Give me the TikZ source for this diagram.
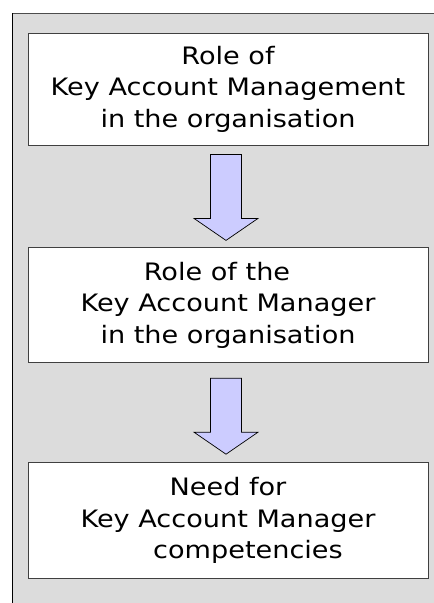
\documentclass[tikz,border=0pt]{standalone}
\usepackage{fontspec}
\usepackage{tikz}
\usetikzlibrary{positioning,calc}

\newfontfamily\boxfont[FakeStretch=1.13]{DejaVu Sans}

% block arrow between two stacked boxes
\newcommand{\flowarrow}[4]{%
  \draw[blockarrow] let \p1=($(#1.south)+(-2,#3)$), \p2=($(#2.north)+(-2,-#4)$) in
    (\x1-15.5pt,\y1) -- (\x1+15.5pt,\y1) -- (\x1+15.5pt,\y2+22pt) -- (\x1+32pt,\y2+22pt)
    -- (\x2,\y2) -- (\x1-32pt,\y2+22pt) -- (\x1-15.5pt,\y2+22pt) -- cycle;
}

\begin{document}
\begin{tikzpicture}[x=1pt,y=-1pt]
% Define colors
\definecolor{panel}{RGB}{220,220,220}
\definecolor{arrowfill}{RGB}{204,204,255}

\tikzset{
  stage/.style={draw=black!75, line width=0.8pt, fill=white, minimum width=400pt,
    inner sep=0pt, align=center, font=\boxfont\fontsize{24}{31.5}\selectfont},
  blockarrow/.style={draw=black, line width=0.7pt, fill=arrowfill, line join=miter}
}

\useasboundingbox (0,0) rectangle (434,603);

% Draw background panel
\fill[panel] (12,13) rectangle (434,603);
\draw[black!70, line width=0.8pt] (434,13) -- (12,13);
\draw[black, line width=0.8pt] (12,13) -- (12,603);

% Draw the three stages
\node[stage, minimum height=112pt] (kam) at (228,89)
  {Role of\\Key Account Management\\in the organisation};
\node[stage, minimum height=115pt, below=102pt of kam] (kamrole)
  {Role of the\hspace*{22pt}\\Key Account Manager\\in the organisation};
\node[stage, minimum height=116pt, below=99pt of kamrole] (skills)
  {Need for\\Key Account Manager\\\hspace*{40pt}competencies};

% Draw arrows
\flowarrow{kam}{kamrole}{9}{7}
\flowarrow{kamrole}{skills}{15}{8}
\end{tikzpicture}
\end{document}
